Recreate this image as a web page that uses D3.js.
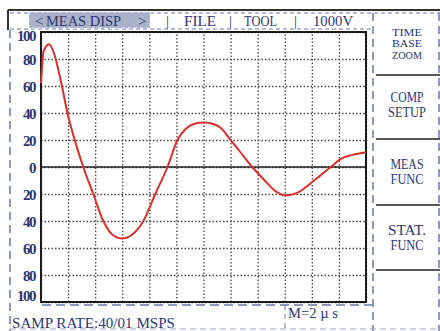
<!DOCTYPE html>
<html>
<head>
<meta charset="utf-8">
<script src="https://cdn.jsdelivr.net/npm/d3@7"></script>
<style>
  body { margin: 0; background: #fff; }
  text { font-family: "Liberation Serif", "DejaVu Serif", serif; fill: #2c3672; }
</style>
</head>
<body>
<div id="scope"></div>
<script>
// waveform: time in divisions (2 us each), amplitude in %
var timeDiv = [0, 0.1, 0.3, 0.5, 0.75, 1.0, 1.26, 1.56, 1.93, 2.3, 2.63, 3.0, 3.37, 3.78, 4.22, 4.67,
               5.04, 5.33, 5.67, 6.0, 6.33, 6.63, 7.0, 7.4, 7.8, 8.26, 8.67, 9.04, 9.48, 9.96, 10.33, 10.7,
               11.07, 11.5, 12];
var amplitude = [62, 86, 91, 83, 62, 38, 19, 0, -20, -40, -50, -53, -50, -40, -20, 0,
                 20, 28, 32, 33, 32, 29, 20, 10, 0, -10, -18, -21, -19, -12, -6, 0,
                 6, 9, 11];
var yTicks = [100, 80, 60, 40, 20, 0, -20, -40, -60, -80, -100];
var xTicks = [0, 1, 2, 3, 4, 5, 6, 7, 8, 9, 10, 11, 12];
var menuItems = [["TIME", "BASE", "ZOOM"], ["COMP", "SETUP"], ["MEAS", "FUNC"], ["STAT.", "FUNC"]];

var W = 440, H = 331;
var plot = {left: 41, right: 366, top: 32, bottom: 302};

var svg = d3.select("#scope").append("svg")
    .attr("width", W).attr("height", H);

var dash = "#6d77ab";

// x / y scales
var x = d3.scaleLinear().domain([0, 12]).range([plot.left, plot.right]);
var y = d3.scaleLinear().domain([-100, 100]).range([plot.bottom, plot.top]);

// outer frame
svg.append("line").attr("x1", 8).attr("y1", 10).attr("x2", W).attr("y2", 10)
  .attr("stroke", "#333").attr("stroke-width", 2);
svg.append("line").attr("x1", 8).attr("y1", 10).attr("x2", 8).attr("y2", 30)
  .attr("stroke", "#333").attr("stroke-width", 2);
svg.append("line").attr("x1", 10).attr("y1", 13).attr("x2", W).attr("y2", 13)
  .attr("stroke", dash).attr("stroke-dasharray", "4,3");
svg.append("line").attr("x1", 10).attr("y1", 29).attr("x2", 372).attr("y2", 29)
  .attr("stroke", dash).attr("stroke-dasharray", "4,3");
svg.append("line").attr("x1", 10).attr("y1", 30).attr("x2", 10).attr("y2", H)
  .attr("stroke", dash).attr("stroke-width", 1.5).attr("stroke-dasharray", "8,5");

// header
svg.append("rect").attr("x", 29).attr("y", 12).attr("width", 121).attr("height", 16)
  .attr("fill", "#a9b2c8").attr("stroke", "#e6e9f2").attr("stroke-dasharray", "3,3");
var header = [["<", 35], ["MEAS DISP", 46, 75], [">", 138], ["|", 166], ["FILE", 184, 32],
              ["|", 229], ["TOOL", 244, 33], ["|", 294], ["1000V", 313, 40]];
header.forEach(function(h) {
  var t = svg.append("text").attr("x", h[1]).attr("y", 26).attr("font-size", 15).text(h[0]);
  if (h[2]) t.attr("textLength", h[2]).attr("lengthAdjust", "spacingAndGlyphs");
});

// grid
svg.append("g")
  .attr("transform", "translate(0," + plot.bottom + ")")
  .call(d3.axisBottom(x).tickValues(xTicks).tickSize(-(plot.bottom - plot.top)).tickFormat(""))
  .call(function(g) {
    g.select(".domain").remove();
    g.selectAll("line").attr("stroke", "#444").attr("stroke-width", 1.3).attr("stroke-dasharray", "1.5,2");
  });
svg.append("g")
  .attr("transform", "translate(" + plot.left + ",0)")
  .call(d3.axisLeft(y).tickValues(yTicks).tickSize(-(plot.right - plot.left)).tickFormat(""))
  .call(function(g) {
    g.select(".domain").remove();
    g.selectAll("line").attr("stroke", "#444").attr("stroke-width", 1.3).attr("stroke-dasharray", "1.5,2");
  });

// y labels (no sign, like the meter)
svg.append("g").selectAll("text").data(yTicks).join("text")
  .attr("x", 35).attr("y", function(d) {
    if (d === 100) return plot.top + 9;
    if (d === -100) return plot.bottom - 1;
    return y(d) + 6;
  })
  .attr("text-anchor", "end").attr("font-size", 15).attr("font-weight", "bold")
  .attr("letter-spacing", -1.5)
  .text(function(d) { return Math.abs(d); });

// zero line + frame
svg.append("line").attr("x1", plot.left).attr("x2", plot.right).attr("y1", y(0)).attr("y2", y(0))
  .attr("stroke", "#222").attr("stroke-width", 1.5);
svg.append("rect").attr("x", plot.left).attr("y", plot.top)
  .attr("width", plot.right - plot.left).attr("height", plot.bottom - plot.top)
  .attr("fill", "none").attr("stroke", "#1a1a1a").attr("stroke-width", 2);

// waveform
var pts = timeDiv.map(function(t, i) { return [t, amplitude[i]]; });
svg.append("path").datum(pts)
  .attr("fill", "none").attr("stroke", "#d8302a").attr("stroke-width", 2)
  .attr("d", d3.line().x(function(d) { return x(d[0]); }).y(function(d) { return y(d[1]); })
    .curve(d3.curveMonotoneX));

// right menu
svg.append("line").attr("x1", 373).attr("x2", 373).attr("y1", 13).attr("y2", H)
  .attr("stroke", dash).attr("stroke-width", 1.5).attr("stroke-dasharray", "8,5");
svg.append("line").attr("x1", 439).attr("x2", 439).attr("y1", 13).attr("y2", H)
  .attr("stroke", dash).attr("stroke-width", 1.5).attr("stroke-dasharray", "8,5");
[75, 139, 205, 270].forEach(function(sy) {
  svg.append("line").attr("x1", 376).attr("x2", W).attr("y1", sy).attr("y2", sy)
    .attr("stroke", "#222").attr("stroke-width", 1.5);
});
var menuCenter = [43, 104, 171, 237];
menuItems.forEach(function(lines, i) {
  var big = lines.length < 3;
  var lh = big ? 15 : 11.5;
  var y0 = menuCenter[i] - (lines.length - 1) * lh / 2;
  lines.forEach(function(s, j) {
    svg.append("text").attr("x", 407).attr("y", y0 + j * lh + (big ? 5 : 4))
      .attr("text-anchor", "middle").attr("font-size", big ? 14 : 11)
      .attr("textLength", big ? (s.length > 4 ? 38 : 33) : 30).attr("lengthAdjust", "spacingAndGlyphs")
      .text(s);
  });
});

// bottom status
svg.append("line").attr("x1", 42).attr("x2", 373).attr("y1", 305).attr("y2", 305)
  .attr("stroke", dash).attr("stroke-width", 1.5).attr("stroke-dasharray", "9,5");
svg.append("line").attr("x1", 285).attr("x2", 285).attr("y1", 305).attr("y2", H)
  .attr("stroke", dash).attr("stroke-dasharray", "5,4");
svg.append("line").attr("x1", 10).attr("x2", W).attr("y1", 329).attr("y2", 329)
  .attr("stroke", "#9aa3cc").attr("stroke-dasharray", "6,4");
svg.append("text").attr("x", 12).attr("y", 328).attr("font-size", 15)
  .attr("textLength", 163).attr("lengthAdjust", "spacingAndGlyphs")
  .text("SAMP RATE:40/01 MSPS");
svg.append("text").attr("x", 288).attr("y", 318).attr("font-size", 14)
  .attr("textLength", 50).attr("lengthAdjust", "spacingAndGlyphs")
  .text("M=2 \u00b5 s");
</script>
</body>
</html>
